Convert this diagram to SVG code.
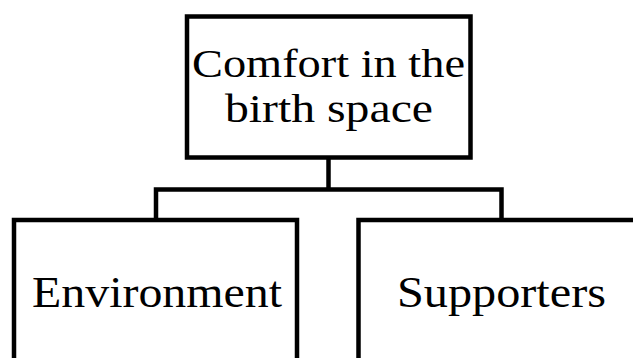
<svg xmlns="http://www.w3.org/2000/svg" width="633" height="358" viewBox="0 0 633 358">
<style>
.box{fill:#fff;stroke:#000;stroke-width:4.5}
.con{fill:none;stroke:#000;stroke-width:4.5}
.t{font-family:"Liberation Serif","Times New Roman",serif;font-size:44px;fill:#000;text-anchor:middle}
.t2{font-size:40px}
</style>
<rect width="633" height="358" fill="#fff"/>
<g id="connectors">
<line class="con" x1="328.5" y1="157.5" x2="328.5" y2="189.5"/>
<polyline class="con" points="156,220 156,189.5 501.5,189.5 501.5,220"/>
</g>
<g id="node-top">
<rect class="box" x="187" y="16.5" width="283.5" height="141"/>
<text class="t t2" x="328.5" y="77" textLength="273" lengthAdjust="spacingAndGlyphs">Comfort in the</text>
<text class="t t2" x="329" y="122" textLength="208" lengthAdjust="spacingAndGlyphs">birth space</text>
</g>
<g id="node-environment">
<rect class="box" x="14" y="220" width="283" height="160"/>
<text class="t" x="157" y="307" textLength="250" lengthAdjust="spacingAndGlyphs">Environment</text>
</g>
<g id="node-supporters">
<rect class="box" x="358.5" y="220" width="300" height="160"/>
<text class="t" x="501.5" y="307" textLength="209" lengthAdjust="spacingAndGlyphs">Supporters</text>
</g>
</svg>
